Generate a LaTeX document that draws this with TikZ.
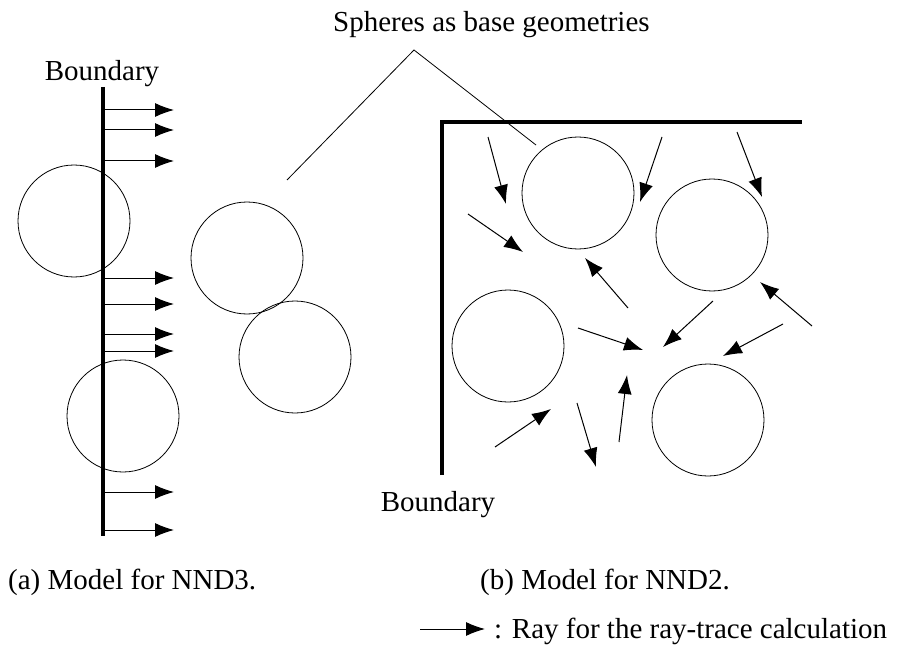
\documentclass[tikz,border=0pt]{standalone}
\usepackage{fontspec}
\setmainfont{Liberation Serif}
\usetikzlibrary{arrows.meta}
\tikzset{
  sphere/.style={draw, circle, line width=0.8pt, minimum size=112pt, inner sep=0pt},
  wall/.style={line width=4pt},
  ray/.style={line width=1pt, -{Latex[length=19pt,width=14pt]}},
  leader/.style={line width=0.8pt},
  lbl/.style={font=\fontsize{29}{34}\selectfont, inner sep=0pt}
}
\begin{document}
\begin{tikzpicture}[x=1pt, y=-1pt]
  \useasboundingbox (0,0) rectangle (900,650);
  % left model
  \coordinate (wtop) at (103,87);
  \coordinate (wbot) at (103,536);
  \draw[wall] (wtop) -- (wbot);
  \node[lbl, anchor=base] (bnda) at (102,81) {Boundary};
  \node[sphere] (la) at (74,221) {};
  \node[sphere] (lb) at (123,416) {};
  \foreach \y [count=\i] in {110,130,161,278,304,334,351,492,530} {
    \coordinate (ls\i) at (105,\y);
    \coordinate (le\i) at (174,\y);
    \draw[ray] (ls\i) -- (le\i);
  }
  \node[sphere] (ma) at (247,258) {};
  \node[sphere] (mb) at (295,357) {};
  % right model
  \coordinate (cb) at (442,475);
  \coordinate (cc) at (442,122);
  \coordinate (ct) at (802,122);
  \draw[wall] (cb) -- (cc) -- (ct);
  \node[sphere] (ra) at (578,193) {};
  \node[sphere] (rb) at (712,235) {};
  \node[sphere] (rc) at (508,346) {};
  \node[sphere] (rd) at (708,420) {};
  \foreach \sx/\sy/\ex/\ey [count=\i] in {488/137/506/204, 662/137/640/202,
      737/132/762/197, 468/214/523/252, 628/308/585/258, 812/326/760/282,
      578/328/643/350, 713/301/663/347, 783/324/723/356, 495/447/551/409,
      577/403/596/467, 619/442/627/375} {
    \coordinate (rs\i) at (\sx,\sy);
    \coordinate (re\i) at (\ex,\ey);
    \draw[ray] (rs\i) -- (re\i);
  }
  \node[lbl, anchor=base] (bndb) at (438,511) {Boundary};
  % leader
  \node[lbl, anchor=base west] (sph) at (333,32) {Spheres as base geometries};
  \coordinate (apex) at (414,50);
  \coordinate (lm) at (287,180);
  \coordinate (lr) at (536,145);
  \draw[leader] (lm) -- (apex) -- (lr);
  % captions
  \node[lbl, anchor=base west] (capa) at (8,589) {(a) Model for NND3.};
  \node[lbl, anchor=base west] (capb) at (480,589) {(b) Model for NND2.};
  \coordinate (ks) at (420,629);
  \coordinate (ke) at (485,629);
  \draw[ray] (ks) -- (ke);
  \node[lbl, anchor=base west] (key) at (494,638) {: Ray for the ray-trace calculation};
\end{tikzpicture}
\end{document}
